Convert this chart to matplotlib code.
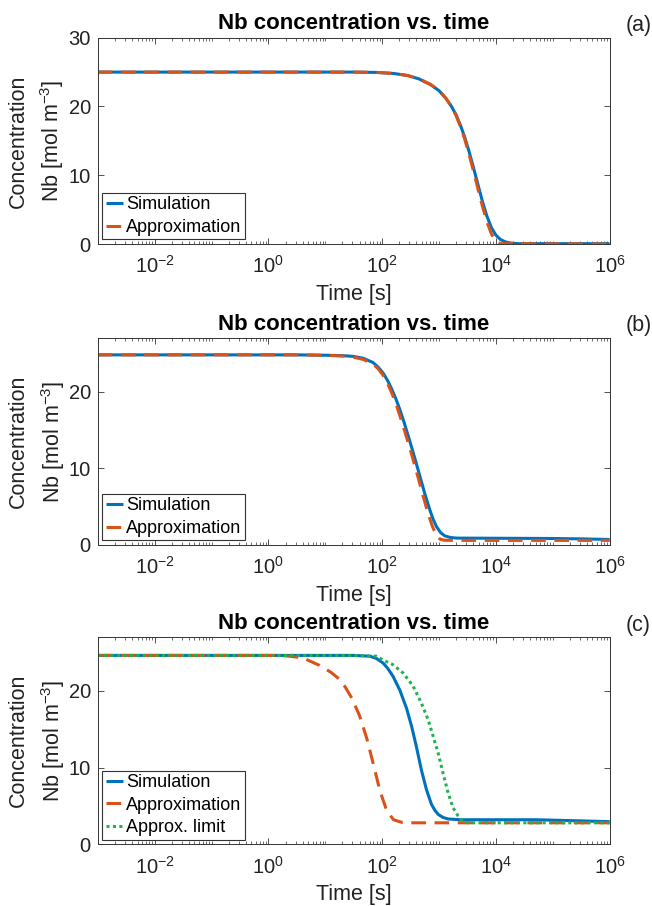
import numpy as np
import matplotlib
matplotlib.use("Agg")
import matplotlib.pyplot as plt
from matplotlib.ticker import LogLocator, FixedLocator, NullFormatter, LogFormatterSciNotation

plt.rcParams['font.family'] = ['Liberation Sans', 'DejaVu Sans']
plt.rcParams['mathtext.fontset'] = 'custom'
plt.rcParams['mathtext.rm'] = 'Liberation Sans'
plt.rcParams['mathtext.it'] = 'Liberation Sans:italic'
plt.rcParams['mathtext.bf'] = 'Liberation Sans:bold'

# time given as log10(t [s]), concentration in mol m^-3
# panel (a)
a_sim_lt = [-3, 1.5, 1.9, 2.2, 2.45, 2.65, 2.85, 3.0, 3.12, 3.22, 3.3, 3.38, 3.45, 3.52,
            3.6, 3.68, 3.76, 3.84, 3.92, 4.0, 4.08, 4.17, 4.27, 4.4, 6]
a_sim_c = [25.0, 25.0, 24.95, 24.8, 24.5, 24.0, 23.2, 22.3, 21.2, 20.0, 18.8, 17.2, 15.6, 13.7,
           11.3, 8.8, 6.3, 4.1, 2.4, 1.3, 0.65, 0.3, 0.12, 0.05, 0.05]
a_app_lt = [-3, 1.5, 1.9, 2.2, 2.45, 2.65, 2.85, 3.0, 3.12, 3.22, 3.3, 3.38, 3.45, 3.52,
            3.6, 3.68, 3.76, 3.84, 3.92, 4.0, 4.08, 6]
a_app_c = [25.0, 25.0, 24.95, 24.8, 24.5, 24.0, 23.2, 22.3, 21.2, 20.0, 18.7, 17.0, 15.3, 13.3,
           10.8, 8.2, 5.6, 3.3, 1.5, 0.4, 0.05, 0.0]

# panel (b)
b_sim_lt = [-3, 0.5, 1.0, 1.3, 1.5, 1.67, 1.84, 1.93, 2.02, 2.1, 2.165, 2.24, 2.31, 2.39, 2.46,
            2.52, 2.575, 2.663, 2.75, 2.838, 2.9, 2.956, 3.03, 3.1, 3.2, 3.31, 4.0, 5.0, 5.5, 6]
b_sim_c = [24.8, 24.8, 24.75, 24.7, 24.6, 24.35, 23.8, 23.2, 22.4, 21.4, 20.4, 19.1, 17.7, 15.9,
           14.2, 12.7, 11.3, 9.0, 6.7, 4.6, 3.3, 2.4, 1.6, 1.2, 0.98, 0.9, 0.88, 0.85, 0.8, 0.72]
b_app_lt = [-3, 0.5, 1.0, 1.3, 1.5, 1.67, 1.84, 1.93, 2.02, 2.1, 2.165, 2.24, 2.31, 2.37, 2.44,
            2.5, 2.55, 2.64, 2.72, 2.80, 2.88, 2.95, 3.02, 3.1, 3.3, 6]
b_app_c = [24.8, 24.8, 24.75, 24.65, 24.5, 24.2, 23.6, 23.0, 22.1, 21.0, 19.9, 18.5, 16.9, 15.5,
           13.8, 12.3, 11.0, 8.6, 6.4, 4.3, 2.5, 1.3, 0.75, 0.62, 0.6, 0.6]

# panel (c)
c_sim_lt = [-3, 1.0, 1.5, 1.786, 1.9, 2.018, 2.1, 2.19, 2.31, 2.43, 2.517, 2.60, 2.69, 2.78,
            2.868, 2.93, 2.985, 3.07, 3.16, 3.366, 4.0, 4.7, 5.5, 6]
c_sim_c = [24.6, 24.6, 24.6, 24.5, 24.2, 23.6, 22.9, 21.9, 20.1, 17.7, 15.4, 12.8, 9.7, 7.1,
           5.2, 4.4, 3.9, 3.5, 3.3, 3.2, 3.2, 3.2, 3.05, 2.95]
c_app_lt = [-3, 0.0, 0.3, 0.6, 0.9, 1.1, 1.25, 1.35, 1.47, 1.6, 1.73, 1.84, 1.96, 2.08,
            2.2, 2.35, 2.5, 6]
c_app_c = [24.6, 24.6, 24.55, 24.3, 23.3, 22.4, 21.5, 20.5, 19.0, 16.8, 13.8, 10.6, 7.0, 4.4,
           3.2, 2.85, 2.8, 2.8]
c_lim_lt = [-3, 1.5, 1.9, 2.018, 2.19, 2.37, 2.545, 2.69, 2.81, 2.896, 2.985, 3.07, 3.16,
            3.248, 3.336, 3.40, 3.5, 6]
c_lim_c = [24.6, 24.6, 24.5, 24.0, 23.4, 22.3, 20.6, 18.4, 16.2, 14.1, 11.9, 9.3, 6.7,
           4.75, 3.7, 3.15, 2.8, 2.8]

panel_tags = ['(a)', '(b)', '(c)']
ylims = [(0, 30), (0, 27), (0, 27)]
yticks = [[0, 10, 20, 30], [0, 10, 20], [0, 10, 20]]
xmajor = [1e-2, 1e0, 1e2, 1e4, 1e6]

blue = '#0072BD'
orange = '#D95319'
green = '#22B24C'
axcol = '#333333'

fig = plt.figure(figsize=(6.52, 9.06), dpi=100)
W, H = 652, 906
boxes = [(97.8, 37.7, 609.6, 244.0), (97.8, 338.0, 609.6, 545.0), (97.8, 637.0, 609.6, 844.3)]
tag_y = [25, 325, 625]

curves = [
    [(a_sim_lt, a_sim_c, 'Simulation'), (a_app_lt, a_app_c, 'Approximation')],
    [(b_sim_lt, b_sim_c, 'Simulation'), (b_app_lt, b_app_c, 'Approximation')],
    [(c_sim_lt, c_sim_c, 'Simulation'), (c_app_lt, c_app_c, 'Approximation'),
     (c_lim_lt, c_lim_c, 'Approx. limit')],
]

for i in range(3):
    x0, y0, x1, y1 = boxes[i]
    ax = fig.add_axes([x0 / W, 1 - y1 / H, (x1 - x0) / W, (y1 - y0) / H])
    for lt, c, lab in curves[i]:
        t = np.power(10.0, np.array(lt))
        if lab == 'Simulation':
            ax.plot(t, c, color=blue, lw=2.2, label=lab, solid_capstyle='butt')
        elif lab == 'Approximation':
            ax.plot(t, c, color=orange, lw=2.2, ls=(0, (4.8, 2.8)), label=lab, dash_capstyle='butt')
        else:
            ax.plot(t, c, color=green, lw=2.2, ls=(0, (1, 1.1)), label=lab, dash_capstyle='butt')
    ax.set_xscale('log')
    ax.set_xlim(1e-3, 1e6)
    ax.set_ylim(*ylims[i])
    ax.set_yticks(yticks[i])
    ax.xaxis.set_major_locator(FixedLocator(xmajor))
    ax.xaxis.set_major_formatter(LogFormatterSciNotation())
    ax.xaxis.set_minor_locator(LogLocator(base=10, subs=np.arange(1, 10), numticks=30))
    ax.xaxis.set_minor_formatter(NullFormatter())
    ax.tick_params(which='both', direction='in', top=True, right=True, colors=axcol,
                   labelcolor='#222222', labelsize=14.5)
    ax.tick_params(which='major', length=4.5, width=0.6)
    ax.tick_params(which='minor', length=2.2, width=0.5)
    ax.tick_params(axis='y', pad=5)
    ax.tick_params(axis='x', pad=8)
    for s in ax.spines.values():
        s.set_color(axcol)
        s.set_linewidth(0.7)
    ax.set_title('Nb concentration vs. time', fontsize=16, fontweight='bold', pad=6)
    ax.set_xlabel('Time [s]', fontsize=15.5, labelpad=5, color='#222222')
    ax.set_ylabel('Concentration\nNb [mol m$^{-3}$]', fontsize=15.5, labelpad=1.5,
                  linespacing=1.45, color='#222222')
    leg = ax.legend(loc='lower left', fontsize=13, frameon=True, fancybox=False,
                    framealpha=1, edgecolor='#333333', handlelength=0.95,
                    handletextpad=0.15, borderpad=0.2, labelspacing=0.3,
                    borderaxespad=0.25)
    leg.get_frame().set_linewidth(0.8)
    fig.text(626 / W, 1 - tag_y[i] / H, panel_tags[i], fontsize=15.5, ha='left',
             va='center', color='#222222')

fig.savefig('out.png', dpi=100)
